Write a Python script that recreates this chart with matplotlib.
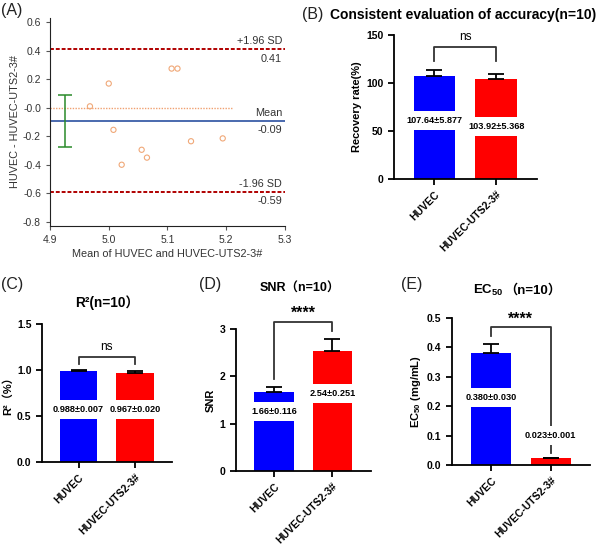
import numpy as np
import matplotlib
matplotlib.use('Agg')
import matplotlib.pyplot as plt

plt.rcParams['font.family'] = ['Liberation Sans', 'Noto Sans CJK SC']
plt.rcParams['mathtext.fontset'] = 'custom'
plt.rcParams['mathtext.rm'] = 'Liberation Sans'
plt.rcParams['mathtext.bf'] = 'Liberation Sans:bold'

# Bland-Altman data (panel A)
ba_mean = [4.968, 5.000, 5.008, 5.022, 5.056, 5.065, 5.107, 5.117, 5.140, 5.194]
ba_diff = [0.01, 0.17, -0.155, -0.40, -0.295, -0.35, 0.275, 0.275, -0.235, -0.215]
ba_bias = -0.09
ba_upper = 0.41
ba_lower = -0.59
ba_ci = (-0.275, 0.09)

groups = ['HUVEC', 'HUVEC-UTS2-3#']
recovery = [107.64, 103.92]
recovery_sd = [5.877, 5.368]
r2 = [0.988, 0.967]
r2_sd = [0.007, 0.020]
snr = [1.66, 2.54]
snr_sd = [0.116, 0.251]
ec50 = [0.380, 0.023]
ec50_sd = [0.030, 0.001]

W, H = 600, 548
fig = plt.figure(figsize=(W / 100, H / 100), dpi=100)

def px_axes(l, r, t, b):
    return fig.add_axes([l / W, 1 - b / H, (r - l) / W, (b - t) / H])

# ---------- panel A ----------
gray = '#333333'
ax = px_axes(50, 285, 18, 226)
ax.scatter(ba_mean, ba_diff, s=14, facecolors='none', edgecolors='#f0a878', linewidths=0.8, zorder=3)
ax.plot([4.9, 5.21], [0, 0], ls=(0, (1, 1)), color='#f0a070', lw=1)
ax.axhline(ba_bias, color='#3c5ea8', lw=1.3)
for v in (ba_upper, ba_lower):
    ax.axhline(v, color='#b00000', lw=1.4, ls=(0, (2, 1)))
ax.errorbar([4.925], [np.mean(ba_ci)], yerr=[[np.mean(ba_ci) - ba_ci[0]], [ba_ci[1] - np.mean(ba_ci)]],
            fmt='none', ecolor='#2a8a2a', elinewidth=1.1, capsize=5, capthick=1.1)
for v, top, bot in [(ba_upper, '+1.96 SD', '0.41'), (ba_bias, 'Mean', '-0.09'), (ba_lower, '-1.96 SD', '-0.59')]:
    ax.text(5.295, v + 0.02, top, ha='right', va='bottom', fontsize=7.8, color=gray)
    ax.text(5.295, v - 0.03, bot, ha='right', va='top', fontsize=7.8, color=gray)
ax.set_xlim(4.9, 5.3)
ax.set_ylim(-0.83, 0.63)
ax.set_xticks([4.9, 5.0, 5.1, 5.2, 5.3])
ax.set_yticks(np.round(np.arange(-0.8, 0.61, 0.2), 1))
ax.xaxis.set_major_formatter(matplotlib.ticker.FormatStrFormatter('%.1f'))
ax.yaxis.set_major_formatter(matplotlib.ticker.FormatStrFormatter('%.1f'))
ax.spines[['top', 'right']].set_visible(False)
for s in ('left', 'bottom'):
    ax.spines[s].set_color('#222222')
ax.tick_params(labelsize=7.5, labelcolor=gray, length=3, color='#555555')
ax.set_xlabel('Mean of HUVEC and HUVEC-UTS2-3#', fontsize=7.8, color=gray, labelpad=3)
ax.set_ylabel('HUVEC - HUVEC-UTS2-3#', fontsize=7.8, color=gray, labelpad=2)

# ---------- bar panels ----------
def bar_panel(box, vals, errs, ylim, yticks, fmt, ylabel, labels_y, bracket, sig):
    a = px_axes(*box)
    x = np.arange(2)
    a.bar(x, vals, width=0.67, color=['#0000ff', '#ff0000'], zorder=2)
    a.errorbar(x, vals, yerr=[[0, 0], errs], fmt='none', ecolor='black', elinewidth=1.3,
               capsize=6, capthick=1.3, zorder=3)
    for xi, v, e, ly in zip(x, vals, errs, labels_y):
        a.text(xi, ly, fmt.format(v, e), ha='center', va='center', fontsize=6.6, fontweight='bold',
               zorder=5, bbox=dict(boxstyle='square,pad=0.55', fc='white', ec='none'))
    ytop, yl, yr = bracket
    a.plot([0, 0, 1, 1], [yl, ytop, ytop, yr], color='#333333', lw=1.3, clip_on=False, zorder=4)
    if sig == 'ns':
        a.text(0.5, ytop + (ylim[1] - ylim[0]) * 0.03, sig, ha='center', va='bottom', fontsize=8.5)
    else:
        a.text(0.5, ytop + (ylim[1] - ylim[0]) * 0.005, sig, ha='center', va='bottom',
               fontsize=11.5, fontweight='bold')
    a.set_xlim(-0.65, 1.66)
    a.set_ylim(*ylim)
    a.set_yticks(yticks)
    a.set_xticks(x)
    a.set_xticklabels(groups, rotation=45, ha='right', rotation_mode='anchor', fontweight='bold')
    for lab in a.get_yticklabels():
        lab.set_fontweight('bold')
    a.tick_params(labelsize=7.5, width=1.3, length=4)
    a.spines[['top', 'right']].set_visible(False)
    for s in ('left', 'bottom'):
        a.spines[s].set_linewidth(1.3)
    a.set_ylabel(ylabel, fontsize=8, fontweight='bold', labelpad=3)
    return a

bar_panel((394, 537, 35, 179), recovery, recovery_sd, (0, 150), [0, 50, 100, 150],
          '{:.2f}±{:.3f}', 'Recovery rate(%)', [61, 55], (137, 123, 123), 'ns')
axc = bar_panel((42, 172, 324, 462), r2, r2_sd, (0, 1.5), [0.0, 0.5, 1.0, 1.5],
                '{:.3f}±{:.3f}', 'R²（%）', [0.57, 0.57], (1.14, 1.07, 1.07), 'ns')
bar_panel((236, 371, 329, 471), snr, snr_sd, (0, 3), [0, 1, 2, 3],
          '{:.2f}±{:.3f}', 'SNR', [1.25, 1.63], (3.15, 1.95, 2.96), '****')
axe = bar_panel((452, 590, 318, 465), ec50, ec50_sd, (0, 0.5), [0.0, 0.1, 0.2, 0.3, 0.4, 0.5],
                '{:.3f}±{:.3f}', r'EC$_{\mathbf{50}}$ (mg/mL)', [0.23, 0.099], (0.469, 0.44, 0.04), '****')
for a in (axc, axe):
    a.yaxis.set_major_formatter(matplotlib.ticker.FormatStrFormatter('%.1f'))

# titles and panel letters
fig.text(330 / W, 1 - 15 / H, 'Consistent evaluation of accuracy(n=10)', fontsize=10,
         fontweight='bold', ha='left', va='center')
fig.text(107 / W, 1 - 303 / H, 'R²(n=10）', fontsize=9.8, fontweight='bold', ha='center', va='center')
fig.text(300 / W, 1 - 289 / H, 'SNR（n=10）', fontsize=9, fontweight='bold', ha='center', va='center')
fig.text(504 / W, 1 - 294 / H, r'EC$_{\mathbf{50}}$', fontsize=9.5, fontweight='bold',
         ha='right', va='baseline')
fig.text(504 / W, 1 - 294 / H, '（n=10）', fontsize=9.5, fontweight='bold', ha='left', va='baseline')
for lbl, x, y in [('(A)', 1, 11), ('(B)', 302, 15), ('(C)', 1, 285), ('(D)', 199, 285), ('(E)', 401, 285)]:
    fig.text(x / W, 1 - y / H, lbl, fontsize=11.5, ha='left', va='center', color='#222222')

fig.savefig('out.png', dpi=100)
